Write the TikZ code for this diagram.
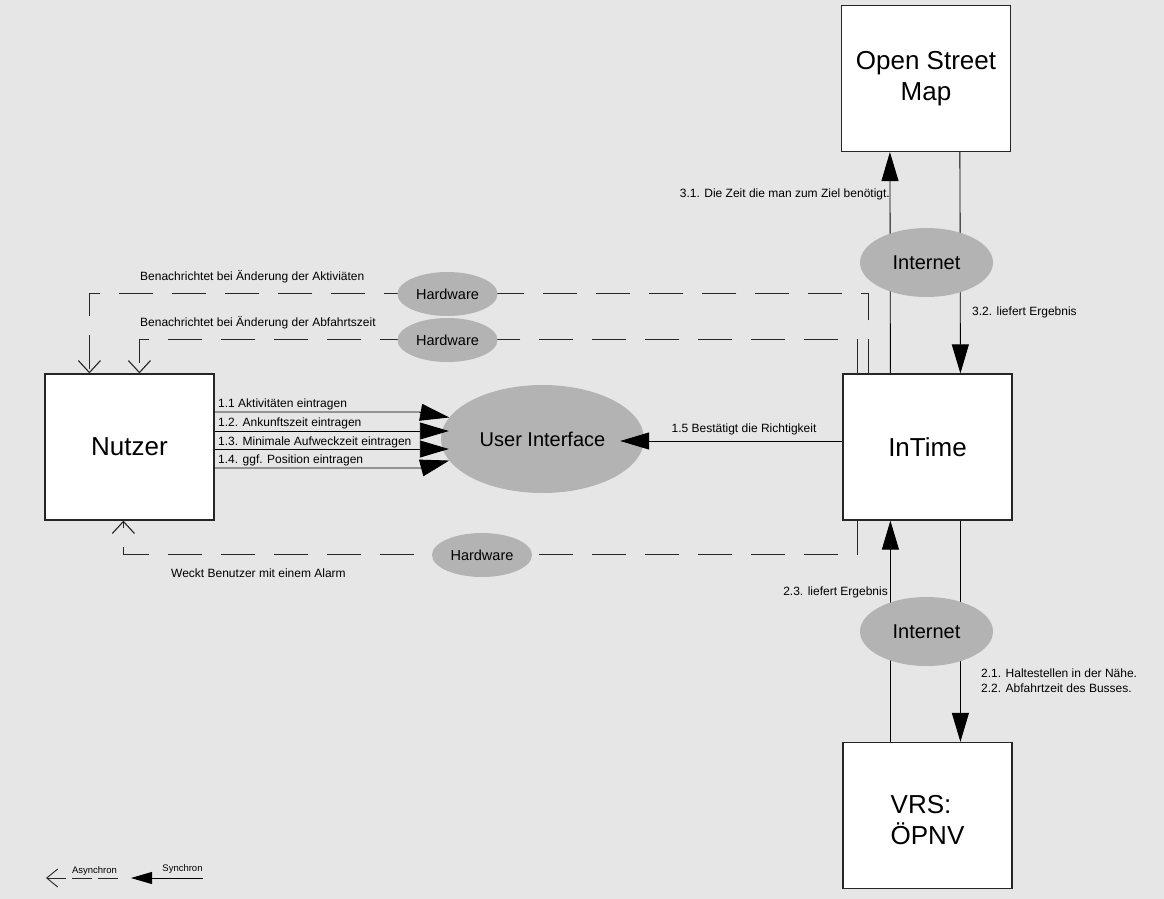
\documentclass[tikz,border=0pt]{standalone}
\usepackage{fontspec}
\setmainfont{Liberation Sans}
\usetikzlibrary{arrows.meta}
\usetikzlibrary{shapes.geometric}

\definecolor{bggray}{HTML}{E6E6E6}
\definecolor{ellgray}{HTML}{B3B3B3}
\definecolor{linegray}{HTML}{262626}
\newcommand{\fsz}[2]{\fontsize{#1}{#2}\selectfont}

\begin{document}
\begin{tikzpicture}[x=1pt, y=-1pt,
    box/.style={draw=linegray, line width=1.2pt, fill=white, minimum width=169pt, minimum height=146pt, inner sep=0pt, font=\fsz{26}{31}},
    oval/.style={ellipse, fill=ellgray, inner sep=0pt},
    syn/.style={draw=black, line width=0.9pt, -{Triangle[length=29pt,width=17pt]}},
    asyn/.style={draw=linegray, line width=1.1pt, dash pattern=on 34pt off 19pt, -{Straight Barb[length=12pt,width=22pt]}},
    lbl/.style={font=\fsz{12}{15}, inner sep=0pt}]
      \fill[bggray] (0,0) rectangle (1164,899);
      \useasboundingbox (0,0) rectangle (1164,899);

      % the four boxes
      \node[box] (nutzer) at (129.5,447) {Nutzer};
      \node[box] (intime) at (927.5,447) {InTime};
      \node[box, align=center] (osm) at (926,78.5) {Open Street\\Map};
      \node[box] (vrs) at (927.5,815.5) {};
      \node[align=left, font=\fsz{26}{31}, inner sep=0pt] (lvrs) at ([yshift=-5pt]vrs.center) {VRS:\\ÖPNV};

      \node[oval, minimum width=203pt, minimum height=108pt, font=\fsz{20}{24}] (ui) at (542.5,439) {User Interface};

      % Nutzer -> User Interface
      \draw[syn] (nutzer.east |- 0,412) -- (419,412) -- (ui.167);
      \draw[syn] (nutzer.east |- 0,431) -- ([xshift=8pt]ui.west |- 0,431);
      \draw[syn] (nutzer.east |- 0,449) -- ([xshift=8pt]ui.west |- 0,449);
      \draw[syn] (nutzer.east |- 0,468) -- (421,468) -- (ui.193);
      \node[lbl, anchor=west] (l11) at (218,404) {1.1 Aktivitäten eintragen};
      \node[lbl, anchor=west] (l12) at (218,423) {1.2. Ankunftszeit eintragen};
      \node[lbl, anchor=west] (l13) at (218,442) {1.3. Minimale Aufweckzeit eintragen};
      \node[lbl, anchor=west] (l14) at (218,460) {1.4. ggf. Position eintragen};

      \draw[syn] (intime.west |- 0,441) -- ([xshift=-24pt]ui.east |- 0,441);
      \node[lbl] (l15) at (744,429) {1.5 Bestätigt die Richtigkeit};

      % InTime <-> Open Street Map
      \draw[syn] ([xshift=48pt]intime.north west) -- ([xshift=49pt]osm.south west);
      \draw[syn] ([xshift=119pt]osm.south west) -- ([xshift=118pt]intime.north west);
      \node[lbl, anchor=east] (l31) at (890,194) {3.1. Die Zeit die man zum Ziel benötigt.};
      \node[lbl, anchor=west] (l32) at (972,312) {3.2. liefert Ergebnis};

      % InTime <-> VRS
      \draw[syn] ([xshift=48pt]vrs.north west) -- ([xshift=48pt]intime.south west);
      \draw[syn] ([xshift=118pt]intime.south west) -- ([xshift=118pt]vrs.north west);
      \node[lbl, anchor=east] (l23) at (888,592) {2.3. liefert Ergebnis};
      \node[lbl, anchor=west, align=left, font=\fsz{12}{15}] (l21) at (981,681) {2.1. Haltestellen in der Nähe.\\2.2. Abfahrtzeit des Busses.};

      % InTime -> Nutzer (Hardware)
      \draw[asyn] ([xshift=26pt]intime.north west) -- ++(0,-80) -| ([xshift=45pt]nutzer.north west);
      \draw[asyn] ([xshift=15pt]intime.north west) -- ++(0,-34) -| ([xshift=95pt]nutzer.north west);
      \draw[asyn] ([xshift=15pt]intime.south west) -- ++(0,34) -| ([xshift=79pt]nutzer.south west);
      \node[lbl, anchor=west] (lakt) at (140,277) {Benachrichtet bei Änderung der Aktiviäten};
      \node[lbl, anchor=west] (labf) at (140,323) {Benachrichtet bei Änderung der Abfahrtszeit};
      \node[lbl, anchor=west] (lalarm) at (171,573) {Weckt Benutzer mit einem Alarm};

      \node[oval, minimum width=133pt, minimum height=69pt, font=\fsz{20}{24}] (net1) at (926.5,262.5) {Internet};
      \node[oval, minimum width=133pt, minimum height=69pt, font=\fsz{20}{24}] (net2) at (926.5,631.5) {Internet};
      \node[oval, minimum width=100pt, minimum height=44pt, font=\fsz{14.5}{17}] (hw1) at (447.5,294) {Hardware};
      \node[oval, minimum width=100pt, minimum height=44pt, font=\fsz{14.5}{17}] (hw2) at (447.5,340) {Hardware};
      \node[oval, minimum width=100pt, minimum height=44pt, font=\fsz{14.5}{17}] (hw3) at (482,555) {Hardware};

      % legend
      \coordinate (a0) at (46,878);
      \coordinate (a1) at (118,878);
      \coordinate (s0) at (131,878);
      \coordinate (s1) at (203,878);
      \draw[linegray, line width=0.9pt, dash pattern=on 20pt off 6pt, -{Straight Barb[length=11pt,width=18pt]}] (a1) -- (a0);
      \draw[black, line width=0.9pt, -{Triangle[length=21pt,width=12pt]}] (s1) -- (s0);
      \node[font=\fsz{9.5}{11}, inner sep=0pt] (lasyn) at (94.5,871) {Asynchron};
      \node[font=\fsz{9.5}{11}, inner sep=0pt] (lsyn) at (182.5,869) {Synchron};
\end{tikzpicture}
\end{document}
